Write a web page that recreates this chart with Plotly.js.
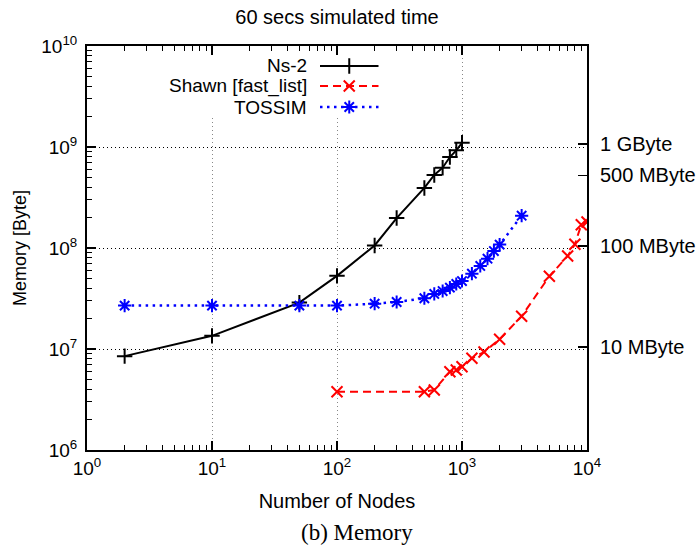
<!DOCTYPE html>
<html>
<head>
<meta charset="utf-8">
<script src="https://cdn.plot.ly/plotly-3.0.1.min.js"></script>
<style>html,body{margin:0;padding:0;background:#fff;}#chart{width:699px;height:549px;}</style>
</head>
<body>
<div id="chart"></div>
<script>
// ---- data ----
const seriesNames = ['Ns-2', 'Shawn [fast_list]', 'TOSSIM'];

const nodesNs2 = [2, 10, 50, 100, 200, 300, 500, 600, 700, 800, 900, 1000];
const memNs2   = [8.5e6, 1.35e7, 2.88e7, 5.3e7, 1.06e8, 1.98e8, 3.93e8, 5.28e8, 6.24e8, 7.96e8, 9.27e8, 1.1e9];

const nodesShawn = [100, 500, 600, 800, 900, 1000, 1200, 1500, 2000, 3000, 5000, 7000, 8000, 9000, 10000];
const memShawn   = [3.78e6, 3.78e6, 3.93e6, 5.96e6, 6.2e6, 6.68e6, 8.09e6, 9.33e6, 1.25e7, 2.11e7, 5.25e7, 8.34e7, 1.09e8, 1.7e8, 1.81e8];

const nodesTossim = [2, 10, 50, 100, 200, 300, 500, 600, 700, 800, 900, 1000, 1200, 1400, 1600, 1800, 2000, 3000];
const memTossim   = [2.69e7, 2.69e7, 2.69e7, 2.69e7, 2.81e7, 2.92e7, 3.18e7, 3.51e7, 3.75e7, 4.05e7, 4.4e7, 4.71e7, 5.57e7, 6.64e7, 7.84e7, 9.33e7, 1.08e8, 2.09e8];

const xTickVals = [1, 10, 100, 1000, 10000];
const xTickText = ['10<sup>0</sup>', '10<sup>1</sup>', '10<sup>2</sup>', '10<sup>3</sup>', '10<sup>4</sup>'];
const yTickVals = [1e6, 1e7, 1e8, 1e9, 1e10];
const yTickText = ['10<sup>6</sup>', '10<sup>7</sup>', '10<sup>8</sup>', '10<sup>9</sup>', '10<sup>10</sup>'];
const sizeTickVals = [Math.pow(2, 30), 500 * Math.pow(2, 20), 100 * Math.pow(2, 20), 10 * Math.pow(2, 20)];
const sizeTickText = ['1 GByte', '500 MByte', '100 MByte', '10 MByte'];

// ---- helpers ----
function minorLog(k0, k1) {
  const v = [];
  for (let k = k0; k < k1; k++) for (let m = 2; m <= 9; m++) v.push(m * Math.pow(10, k));
  return v;
}
const SANS = 'Liberation Sans, Arial, sans-serif';
const colors = ['#000000', '#ff0000', '#0000ff'];
const symbols = ['cross-thin-open', 'x-thin-open', 'asterisk-open'];
const dashes = ['solid', '8px,5px', '2.5px,4.5px'];
const widths = [2, 2, 2.5];
const mSizes = [11, 11, 11];

const seriesX = [nodesNs2, nodesShawn, nodesTossim];
const seriesY = [memNs2, memShawn, memTossim];

const traces = [];
for (let i = 0; i < 3; i++) {
  traces.push({
    type: 'scatter', mode: 'lines+markers', name: seriesNames[i],
    x: seriesX[i], y: seriesY[i], xaxis: 'x', yaxis: 'y',
    line: {color: colors[i], width: widths[i], dash: dashes[i]},
    marker: {symbol: symbols[i], size: mSizes[i], color: colors[i], line: {color: colors[i], width: 2}},
    hoverinfo: 'x+y+name'
  });
}
// invisible copy so that the right-hand (byte size) axis is laid out and drawn
traces.push({
  type: 'scatter', mode: 'markers', x: nodesNs2, y: memNs2, xaxis: 'x', yaxis: 'y2',
  marker: {opacity: 0, size: 1}, hoverinfo: 'skip', showlegend: false
});

// ---- key (legend) drawn in a unit overlay frame, gnuplot style: text then sample ----
const keyBoxX = [0.10, 0.63, 0.63, 0.10];
const keyBoxY = [0.823, 0.823, 1.0, 1.0];
traces.push({
  type: 'scatter', mode: 'lines', x: keyBoxX, y: keyBoxY, xaxis: 'x3', yaxis: 'y3',
  fill: 'toself', fillcolor: '#ffffff', line: {width: 0, color: '#ffffff'}, hoverinfo: 'skip'
});
const keyRowY = [0.9505, 0.901, 0.849];
const keySampleX = [0.466, 0.5245, 0.583];
for (let i = 0; i < 3; i++) {
  traces.push({
    type: 'scatter', mode: 'lines', x: keySampleX, y: keySampleX.map(() => keyRowY[i]),
    xaxis: 'x3', yaxis: 'y3', hoverinfo: 'skip',
    line: {color: colors[i], width: widths[i], dash: dashes[i]}
  });
  traces.push({
    type: 'scatter', mode: 'markers', x: [keySampleX[1]], y: [keyRowY[i]],
    xaxis: 'x3', yaxis: 'y3', hoverinfo: 'skip',
    marker: {symbol: symbols[i], size: mSizes[i], color: colors[i], line: {color: colors[i], width: 2}}
  });
}

const annotations = seriesNames.map((n, i) => ({
  xref: 'paper', yref: 'paper', x: 0.442, y: keyRowY[i], xanchor: 'right', yanchor: 'middle',
  text: n, showarrow: false, font: {family: SANS, size: 19, color: '#000'}, borderpad: 0
}));
annotations.push({
  xref: 'paper', yref: 'paper', x: 0.54, y: -0.205, xanchor: 'center', yanchor: 'middle',
  text: '(b) Memory', showarrow: false,
  font: {family: 'Liberation Serif, Times New Roman, serif', size: 23, color: '#000'}
});

const layout = {
  width: 699, height: 549,
  margin: {l: 87, r: 112, t: 46, b: 99, pad: 0},
  paper_bgcolor: '#ffffff', plot_bgcolor: '#ffffff',
  showlegend: false,
  font: {family: SANS, color: '#000'},
  title: {text: '60 secs simulated time', font: {family: SANS, size: 20, color: '#000'},
          xref: 'paper', x: 0.5, xanchor: 'center', yref: 'container', y: 0.969, yanchor: 'middle'},
  xaxis: {
    type: 'log', range: [0, 4], tickmode: 'array', tickvals: xTickVals, ticktext: xTickText,
    ticks: 'inside', ticklen: 9, tickwidth: 1.5, tickcolor: '#000',
    showline: true, linewidth: 2, linecolor: '#000', mirror: 'ticks',
    showgrid: true, gridcolor: '#888888', gridwidth: 1, griddash: '1px,3px',
    zeroline: false, tickfont: {family: SANS, size: 19, color: '#000'},
    minor: {tickmode: 'array', tickvals: minorLog(0, 4), ticks: 'inside', ticklen: 5, tickwidth: 1, tickcolor: '#000', showgrid: false},
    title: {text: 'Number of Nodes', font: {family: SANS, size: 20, color: '#000'}, standoff: 16}
  },
  yaxis: {
    type: 'log', range: [6, 10], tickmode: 'array', tickvals: yTickVals, ticktext: yTickText,
    ticks: 'inside', ticklen: 9, tickwidth: 1.5, tickcolor: '#000',
    showline: true, linewidth: 2, linecolor: '#000', mirror: false,
    showgrid: true, gridcolor: '#000000', gridwidth: 1, griddash: '1px,3px',
    zeroline: false, tickfont: {family: SANS, size: 19, color: '#000'}, ticklabelstandoff: 4,
    minor: {tickmode: 'array', tickvals: minorLog(6, 10), ticks: 'inside', ticklen: 5, tickwidth: 1, tickcolor: '#000', showgrid: false},
    title: {text: 'Memory [Byte]', font: {family: SANS, size: 18, color: '#000'}, standoff: 10}
  },
  yaxis2: {
    type: 'log', range: [6, 10], overlaying: 'y', side: 'right', anchor: 'x',
    tickmode: 'array', tickvals: sizeTickVals, ticktext: sizeTickText,
    ticks: 'inside', ticklen: 9, tickwidth: 1.5, tickcolor: '#000',
    showline: true, linewidth: 2, linecolor: '#000', showgrid: false, zeroline: false,
    tickfont: {family: SANS, size: 20, color: '#000'}, ticklabelstandoff: 7
  },
  xaxis3: {overlaying: 'x', range: [0, 1], visible: false, fixedrange: true},
  yaxis3: {overlaying: 'y', range: [0, 1], visible: false, fixedrange: true},
  annotations: annotations
};

Plotly.newPlot('chart', traces, layout, {displayModeBar: false, staticPlot: true});
</script>
</body>
</html>
